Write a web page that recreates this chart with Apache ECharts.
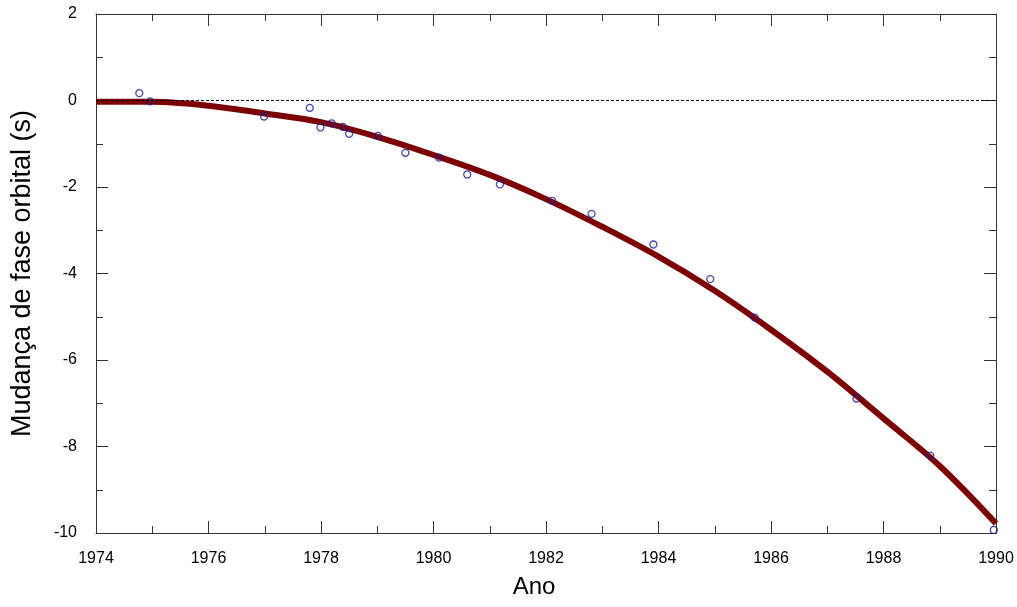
<!DOCTYPE html>
<html>
<head>
<meta charset="utf-8">
<title>Mudança de fase orbital</title>
<script src="https://cdn.jsdelivr.net/npm/echarts@6/dist/echarts.min.js"></script>
<style>
  html, body { margin: 0; padding: 0; background: #ffffff; }
  #chart { width: 1017px; height: 607px; }
</style>
</head>
<body>
<div id="chart"></div>
<script>
// Predicted cumulative shift (curve), sampled once per year
const curveYears = [1974, 1975, 1976, 1977, 1978, 1979, 1980, 1981, 1982,
                    1983, 1984, 1985, 1986, 1987, 1988, 1989, 1990];
const curveShift = [-0.03, -0.03, -0.12, -0.30, -0.50, -0.84, -1.26, -1.72, -2.28,
                    -2.92, -3.61, -4.40, -5.30, -6.27, -7.35, -8.45, -9.78];

// Measured shifts (open circles)
const obsYears = [1974.77, 1974.96, 1976.99, 1977.80, 1977.99, 1978.19, 1978.39,
                  1978.50, 1979.01, 1979.50, 1980.10, 1980.60, 1981.18, 1982.11,
                  1982.81, 1983.91, 1984.92, 1985.71, 1987.52, 1988.83, 1989.96];
const obsShift = [0.17, -0.02, -0.37, -0.17, -0.62, -0.53, -0.61,
                  -0.77, -0.82, -1.21, -1.32, -1.71, -1.94, -2.32,
                  -2.62, -3.33, -4.13, -5.02, -6.89, -8.21, -9.93];

// Axis ranges and tick spacing
const xRange = [1974, 1990];
const yRange = [-10, 2];
const xStep = 2;
const yStep = 2;

const FONT = '"Liberation Sans", Arial, sans-serif';
const AXIS_COLOR = '#333333';

const chart = echarts.init(document.getElementById('chart'), null, { renderer: 'canvas' });

function boxAxis(range, step, position, showLabels, extra) {
  return Object.assign({
    type: 'value',
    position: position,
    min: range[0],
    max: range[1],
    interval: step,
    splitLine: { show: false },
    axisLine: { show: true, onZero: false, lineStyle: { color: AXIS_COLOR, width: 1 } },
    axisTick: { show: true, inside: true, length: 12, lineStyle: { color: AXIS_COLOR, width: 1 } },
    minorTick: { show: true, splitNumber: 2, length: 7, lineStyle: { color: AXIS_COLOR, width: 1 } },
    axisLabel: { show: showLabels }
  }, extra || {});
}

const option = {
  backgroundColor: '#ffffff',
  animation: false,
  grid: { left: 96, right: 21, top: 14, bottom: 74, containLabel: false },
  xAxis: [
    boxAxis(xRange, xStep, 'bottom', true, {
      name: 'Ano',
      nameLocation: 'middle',
      nameGap: 42,
      nameTextStyle: { color: '#000000', fontFamily: FONT, fontSize: 24, padding: [0, 24, 0, 0] },
      axisLabel: {
        show: true, color: '#000000', fontFamily: FONT, fontSize: 16, margin: 18,
        formatter: v => String(v)
      }
    }),
    boxAxis(xRange, xStep, 'top', false)
  ],
  yAxis: [
    boxAxis(yRange, yStep, 'left', true, {
      name: 'Mudança de fase orbital (s)',
      nameLocation: 'middle',
      nameGap: 60,
      nameTextStyle: { color: '#000000', fontFamily: FONT, fontSize: 27 },
      axisLabel: {
        show: true, color: '#000000', fontFamily: FONT, fontSize: 16, margin: 19,
        formatter: v => String(v)
      }
    }),
    boxAxis(yRange, yStep, 'right', false)
  ],
  series: [
    {
      name: 'previsão',
      type: 'line',
      xAxisIndex: 0,
      yAxisIndex: 0,
      data: curveYears.map((t, i) => [t, curveShift[i]]),
      smooth: 0.35,
      showSymbol: false,
      symbol: 'none',
      lineStyle: { color: '#7d0000', width: 6 },
      z: 2
    },
    {
      name: 'zero',
      type: 'line',
      xAxisIndex: 0,
      yAxisIndex: 0,
      data: [[xRange[0], 0], [xRange[1], 0]],
      symbol: 'none',
      lineStyle: { color: '#000000', width: 1, type: [3, 2] },
      z: 3
    },
    {
      name: 'observado',
      type: 'scatter',
      xAxisIndex: 0,
      yAxisIndex: 0,
      data: obsYears.map((t, i) => [t, obsShift[i]]),
      symbol: 'circle',
      symbolSize: 7,
      itemStyle: { color: 'rgba(0,0,0,0)', borderColor: '#1c1c9e', borderWidth: 1.3 },
      z: 4
    }
  ]
};

chart.setOption(option);
</script>
</body>
</html>
